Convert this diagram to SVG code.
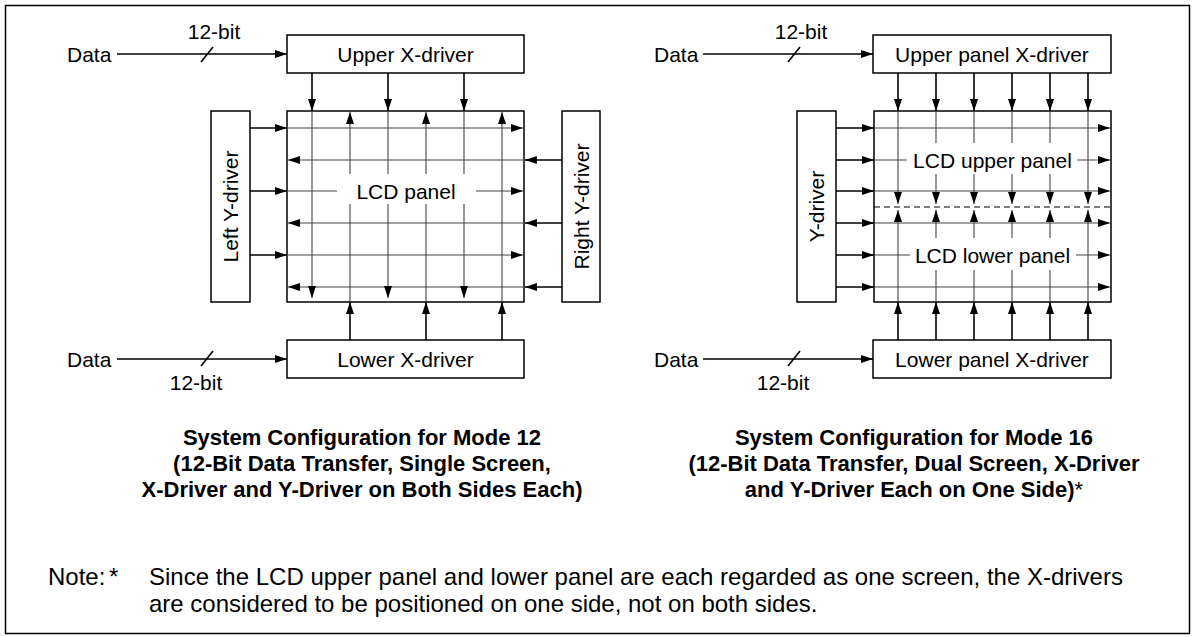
<svg xmlns="http://www.w3.org/2000/svg" width="1198" height="637" viewBox="0 0 1198 637">
<style>
.box{fill:#fff;stroke:#000;stroke-width:1.5}
.out{stroke:#000;stroke-width:1.6;fill:none}
.in{stroke:#444;stroke-width:1.1;fill:none}
.dash{stroke:#000;stroke-width:1.1;stroke-dasharray:6 4;fill:none}
.lbl{font-family:"Liberation Sans",Arial,sans-serif;font-size:21px;fill:#000}
.cap{font-family:"Liberation Sans",Arial,sans-serif;font-size:22px;font-weight:bold;fill:#000;text-anchor:middle}
.note{font-family:"Liberation Sans",Arial,sans-serif;font-size:24px;fill:#000}
.mid{text-anchor:middle}
</style>
<defs>
<marker id="ah" markerWidth="12" markerHeight="8" refX="12" refY="4" orient="auto" markerUnits="userSpaceOnUse"><path d="M0,0 L12,4 L0,8 z" fill="#000"/></marker>
</defs>
<rect x="5.5" y="5.5" width="1184" height="628" fill="none" stroke="#000" stroke-width="1.5"/>

<!-- Left diagram nodes -->
<g id="upper-x-driver"><rect class="box" x="287" y="35" width="237" height="38"/><text class="lbl mid" x="405.5" y="61.5">Upper X-driver</text></g>
<g id="lower-x-driver"><rect class="box" x="287" y="340" width="237" height="38"/><text class="lbl mid" x="405.5" y="366.5">Lower X-driver</text></g>
<g id="left-y-driver"><rect class="box" x="211" y="111" width="39" height="191"/><text class="lbl mid" transform="translate(238,206.5) rotate(-90)">Left Y-driver</text></g>
<g id="right-y-driver"><rect class="box" x="562" y="111" width="38" height="191"/><text class="lbl mid" transform="translate(588.5,206.5) rotate(-90)">Right Y-driver</text></g>
<g id="lcd-panel"><rect class="box" x="287" y="111" width="237" height="191"/><text class="lbl mid" x="406" y="198.5">LCD panel</text></g>

<!-- Right diagram nodes -->
<g id="upper-panel-x-driver"><rect class="box" x="873" y="35" width="238" height="38"/><text class="lbl mid" x="992" y="61.5">Upper panel X-driver</text></g>
<g id="lower-panel-x-driver"><rect class="box" x="873" y="340" width="238" height="38"/><text class="lbl mid" x="992" y="366.5">Lower panel X-driver</text></g>
<g id="y-driver"><rect class="box" x="797" y="111" width="39" height="191"/><text class="lbl mid" transform="translate(824,206.5) rotate(-90)">Y-driver</text></g>
<g id="lcd-dual-panel"><rect class="box" x="874" y="111" width="237" height="191"/>
<text class="lbl mid" x="992.5" y="167.5">LCD upper panel</text>
<text class="lbl mid" x="992.5" y="262.5">LCD lower panel</text></g>

<!-- Data labels -->
<g id="data-labels">
<text class="lbl" x="67" y="61.5">Data</text>
<text class="lbl mid" x="214" y="39">12-bit</text>
<text class="lbl" x="67" y="366.5">Data</text>
<text class="lbl mid" x="196" y="390">12-bit</text>
<text class="lbl" x="654" y="61.5">Data</text>
<text class="lbl mid" x="801" y="39">12-bit</text>
<text class="lbl" x="654" y="366.5">Data</text>
<text class="lbl mid" x="783" y="390">12-bit</text>
</g>

<g id="connectors">
<!-- left data -->
<line class="out" x1="117" y1="54" x2="287" y2="54" marker-end="url(#ah)"/>
<line class="out" x1="201" y1="62" x2="213" y2="47"/>
<line class="out" x1="117" y1="359" x2="287" y2="359" marker-end="url(#ah)"/>
<line class="out" x1="201" y1="366" x2="213" y2="351"/>
<!-- left outer verticals -->
<line class="out" x1="312" y1="73" x2="312" y2="111" marker-end="url(#ah)"/>
<line class="out" x1="388" y1="73" x2="388" y2="111" marker-end="url(#ah)"/>
<line class="out" x1="464" y1="73" x2="464" y2="111" marker-end="url(#ah)"/>
<line class="out" x1="350" y1="340" x2="350" y2="302" marker-end="url(#ah)"/>
<line class="out" x1="426" y1="340" x2="426" y2="302" marker-end="url(#ah)"/>
<line class="out" x1="502" y1="340" x2="502" y2="302" marker-end="url(#ah)"/>
<!-- left outer horizontals -->
<line class="out" x1="250" y1="128" x2="287" y2="128" marker-end="url(#ah)"/>
<line class="out" x1="250" y1="191" x2="287" y2="191" marker-end="url(#ah)"/>
<line class="out" x1="250" y1="255" x2="287" y2="255" marker-end="url(#ah)"/>
<line class="out" x1="562" y1="160" x2="525" y2="160" marker-end="url(#ah)"/>
<line class="out" x1="562" y1="223" x2="525" y2="223" marker-end="url(#ah)"/>
<line class="out" x1="562" y1="287" x2="525" y2="287" marker-end="url(#ah)"/>
<!-- left inner horizontals -->
<line class="in" x1="287" y1="128" x2="523" y2="128" marker-end="url(#ah)"/>
<line class="in" x1="287" y1="191" x2="337" y2="191"/>
<line class="in" x1="476" y1="191" x2="523" y2="191" marker-end="url(#ah)"/>
<line class="in" x1="287" y1="255" x2="523" y2="255" marker-end="url(#ah)"/>
<line class="in" x1="524" y1="160" x2="288" y2="160" marker-end="url(#ah)"/>
<line class="in" x1="524" y1="223" x2="288" y2="223" marker-end="url(#ah)"/>
<line class="in" x1="524" y1="287" x2="288" y2="287" marker-end="url(#ah)"/>
<!-- left inner verticals -->
<line class="in" x1="312" y1="111" x2="312" y2="298" marker-end="url(#ah)"/>
<line class="in" x1="388" y1="111" x2="388" y2="174"/>
<line class="in" x1="388" y1="204" x2="388" y2="298" marker-end="url(#ah)"/>
<line class="in" x1="464" y1="111" x2="464" y2="174"/>
<line class="in" x1="464" y1="204" x2="464" y2="298" marker-end="url(#ah)"/>
<line class="in" x1="350" y1="302" x2="350" y2="204"/>
<line class="in" x1="350" y1="174" x2="350" y2="112" marker-end="url(#ah)"/>
<line class="in" x1="426" y1="302" x2="426" y2="204"/>
<line class="in" x1="426" y1="174" x2="426" y2="112" marker-end="url(#ah)"/>
<line class="in" x1="502" y1="302" x2="502" y2="112" marker-end="url(#ah)"/>

<!-- right data -->
<line class="out" x1="703" y1="54" x2="873" y2="54" marker-end="url(#ah)"/>
<line class="out" x1="788" y1="62" x2="800" y2="47"/>
<line class="out" x1="703" y1="359" x2="873" y2="359" marker-end="url(#ah)"/>
<line class="out" x1="788" y1="366" x2="800" y2="351"/>
<!-- right outer verticals -->
<line class="out" x1="898" y1="73" x2="898" y2="111" marker-end="url(#ah)"/>
<line class="out" x1="936" y1="73" x2="936" y2="111" marker-end="url(#ah)"/>
<line class="out" x1="974" y1="73" x2="974" y2="111" marker-end="url(#ah)"/>
<line class="out" x1="1012" y1="73" x2="1012" y2="111" marker-end="url(#ah)"/>
<line class="out" x1="1050" y1="73" x2="1050" y2="111" marker-end="url(#ah)"/>
<line class="out" x1="1088" y1="73" x2="1088" y2="111" marker-end="url(#ah)"/>
<line class="out" x1="898" y1="340" x2="898" y2="302" marker-end="url(#ah)"/>
<line class="out" x1="936" y1="340" x2="936" y2="302" marker-end="url(#ah)"/>
<line class="out" x1="974" y1="340" x2="974" y2="302" marker-end="url(#ah)"/>
<line class="out" x1="1012" y1="340" x2="1012" y2="302" marker-end="url(#ah)"/>
<line class="out" x1="1050" y1="340" x2="1050" y2="302" marker-end="url(#ah)"/>
<line class="out" x1="1088" y1="340" x2="1088" y2="302" marker-end="url(#ah)"/>
<!-- right outer horizontals -->
<line class="out" x1="836" y1="128" x2="874" y2="128" marker-end="url(#ah)"/>
<line class="out" x1="836" y1="160" x2="874" y2="160" marker-end="url(#ah)"/>
<line class="out" x1="836" y1="191" x2="874" y2="191" marker-end="url(#ah)"/>
<line class="out" x1="836" y1="223" x2="874" y2="223" marker-end="url(#ah)"/>
<line class="out" x1="836" y1="255" x2="874" y2="255" marker-end="url(#ah)"/>
<line class="out" x1="836" y1="287" x2="874" y2="287" marker-end="url(#ah)"/>
<!-- right inner horizontals -->
<line class="in" x1="874" y1="128" x2="1110" y2="128" marker-end="url(#ah)"/>
<line class="in" x1="874" y1="160" x2="907" y2="160"/>
<line class="in" x1="1077" y1="160" x2="1110" y2="160" marker-end="url(#ah)"/>
<line class="in" x1="874" y1="191" x2="1110" y2="191" marker-end="url(#ah)"/>
<line class="in" x1="874" y1="223" x2="1110" y2="223" marker-end="url(#ah)"/>
<line class="in" x1="874" y1="255" x2="910" y2="255"/>
<line class="in" x1="1076" y1="255" x2="1110" y2="255" marker-end="url(#ah)"/>
<line class="in" x1="874" y1="287" x2="1110" y2="287" marker-end="url(#ah)"/>
<line class="dash" x1="874" y1="207" x2="1111" y2="207"/>
<!-- right inner verticals, upper panel -->
<line class="in" x1="898" y1="111" x2="898" y2="204" marker-end="url(#ah)"/>
<line class="in" x1="936" y1="111" x2="936" y2="143"/>
<line class="in" x1="936" y1="174" x2="936" y2="204" marker-end="url(#ah)"/>
<line class="in" x1="974" y1="111" x2="974" y2="143"/>
<line class="in" x1="974" y1="174" x2="974" y2="204" marker-end="url(#ah)"/>
<line class="in" x1="1012" y1="111" x2="1012" y2="143"/>
<line class="in" x1="1012" y1="174" x2="1012" y2="204" marker-end="url(#ah)"/>
<line class="in" x1="1050" y1="111" x2="1050" y2="143"/>
<line class="in" x1="1050" y1="174" x2="1050" y2="204" marker-end="url(#ah)"/>
<line class="in" x1="1088" y1="111" x2="1088" y2="204" marker-end="url(#ah)"/>
<!-- right inner verticals, lower panel -->
<line class="in" x1="898" y1="302" x2="898" y2="210" marker-end="url(#ah)"/>
<line class="in" x1="936" y1="302" x2="936" y2="270"/>
<line class="in" x1="936" y1="238" x2="936" y2="210" marker-end="url(#ah)"/>
<line class="in" x1="974" y1="302" x2="974" y2="270"/>
<line class="in" x1="974" y1="238" x2="974" y2="210" marker-end="url(#ah)"/>
<line class="in" x1="1012" y1="302" x2="1012" y2="270"/>
<line class="in" x1="1012" y1="238" x2="1012" y2="210" marker-end="url(#ah)"/>
<line class="in" x1="1050" y1="302" x2="1050" y2="270"/>
<line class="in" x1="1050" y1="238" x2="1050" y2="210" marker-end="url(#ah)"/>
<line class="in" x1="1088" y1="302" x2="1088" y2="210" marker-end="url(#ah)"/>
</g>

<g id="captions">
<text class="cap" x="362" y="445">System Configuration for Mode 12</text>
<text class="cap" x="362" y="471">(12-Bit Data Transfer, Single Screen,</text>
<text class="cap" x="362" y="497">X-Driver and Y-Driver on Both Sides Each)</text>
<text class="cap" x="914" y="445">System Configuration for Mode 16</text>
<text class="cap" x="914" y="471">(12-Bit Data Transfer, Dual Screen, X-Driver</text>
<text class="cap" x="914" y="497">and Y-Driver Each on One Side)<tspan font-weight="normal">*</tspan></text>
</g>

<g id="note">
<text class="note" x="48" y="585">Note:</text>
<text class="note" x="109" y="585">*</text>
<text class="note" x="149" y="585">Since the LCD upper panel and lower panel are each regarded as one screen, the X-drivers</text>
<text class="note" x="149" y="612">are considered to be positioned on one side, not on both sides.</text>
</g>
</svg>
